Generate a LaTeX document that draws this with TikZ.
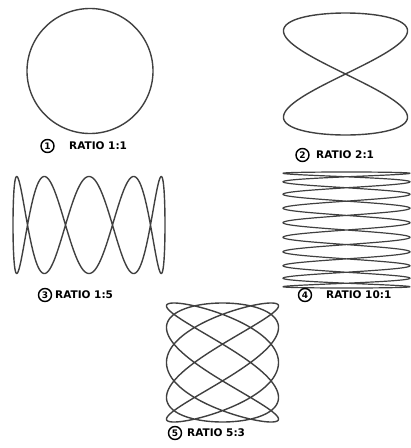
\documentclass[tikz,border=0pt]{standalone}
\usepackage{fontspec}
\newfontfamily\ratiofont{DejaVu Sans}
\usetikzlibrary{positioning}
\tikzset{trace/.style={line width=1.4pt,draw=black!75,line join=round}}
\tikzset{numc/.style={draw,circle,line width=1.4pt,inner sep=0pt,minimum size=13pt,font=\ratiofont\bfseries\fontsize{9}{9}\selectfont}}
\tikzset{ratio/.style={anchor=west,inner sep=0pt,font=\ratiofont\bfseries\fontsize{10.5}{10.5}\selectfont}}

\begin{document}
\begin{tikzpicture}[x=1pt,y=-1pt]
	\useasboundingbox (0,0) rectangle (411,448);
	% ratio 1:1
	\draw[trace,shift={(90,71)}] plot[domain=0:360,samples=181] ({63*cos(\x)},{62.5*sin(\x)});
	\node[numc] (n1) at (47.5,146) {1};
	\node[ratio] (r1) at (69,146) {RATIO 1:1};
	% ratio 2:1
	\draw[trace,shift={(345.5,74)}] plot[domain=0:360,samples=361] ({62*sin(2*\x)},{-61*cos(\x)});
	\node[numc] (n2) at (302.5,155) {2};
	\node[ratio] (r2) at (316,155) {RATIO 2:1};
	% ratio 1:5
	\draw[trace,shift={(89,225)}] plot[domain=0:360,samples=721] ({76*sin(\x)},{48.5*cos(5*\x)});
	\node[numc] (n3) at (45,295) {3};
	\node[ratio] (r3) at (55,295) {RATIO 1:5};
	% ratio 10:1
	\draw[trace,line width=1.2pt,shift={(346.5,230)}] plot[domain=0:360,samples=1441] ({63.5*sin(10*\x)},{58*asin(0.9*cos(\x))/64.16});
	\node[numc] (n4) at (305,295) {4};
	\node[ratio] (r4) at (326,295) {RATIO 10:1};
	% ratio 5:3
	\draw[trace,shift={(222.5,362.5)}] plot[domain=0:360,samples=1081] ({56*cos(5*\x)},{59.5*cos(3*\x+18)});
	\node[numc] (n5) at (175,433) {5};
	\node[ratio] (r5) at (187,433) {RATIO 5:3};
\end{tikzpicture}
\end{document}
